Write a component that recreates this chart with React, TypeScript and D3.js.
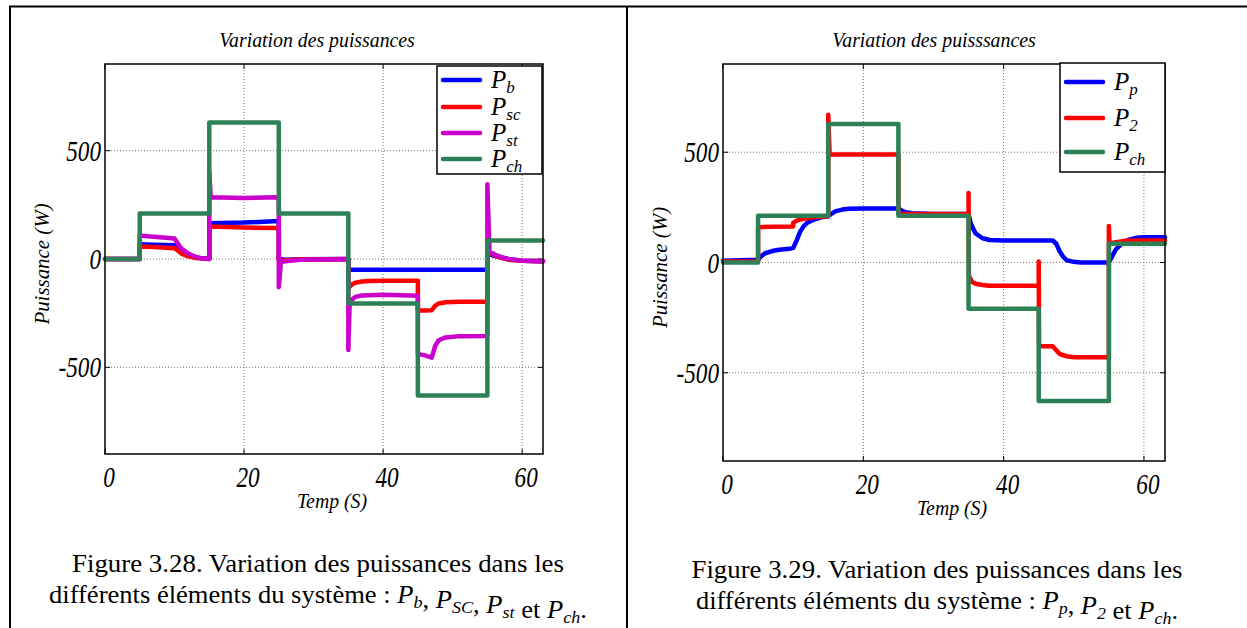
import React from "react";
import * as d3 from "d3";

// ---------- Data (time in s, power in W) ----------
type Pt = [number, number];

// Figure 3.28
const pbL: Pt[] = [[0,0],[5,0],[5,68],[7,66],[10,64],[10.5,50],[11,35],[12,18],[13,8],[14,3],[15,1],[15,165],[20,168],[25,175],[25,0],[26,-3],[28,-1],[35,0],[35,-50],[55,-50],[55,25],[56,15],[58,0],[60,-8],[63,-10]];
const pscL: Pt[] = [[0,0],[5,0],[5,58],[7,55],[10,50],[10.5,38],[11,25],[12,12],[13,5],[14,2],[15,0],[15,150],[20,145],[25,143],[25,-8],[26,-6],[28,-2],[35,0],[35,-135],[35.5,-118],[36,-110],[37,-104],[38,-102],[40,-100],[45,-100],[45,-238],[46,-238],[47,-236],[47.5,-215],[48,-205],[49,-200],[51,-197],[55,-197],[55,35],[56,18],[57,5],[58,-3],[60,-8],[63,-10]];
const pstL: Pt[] = [[0,0],[5,0],[5,108],[7,103],[10,95],[10.5,70],[11,48],[12,25],[13,10],[14,3],[15,0],[15,400],[15.2,285],[20,282],[25,285],[25,-130],[25.3,-15],[26,-10],[28,-4],[30,-2],[35,-1],[35,-420],[35.2,-195],[36,-175],[37,-168],[40,-165],[44,-168],[45,-170],[45,-438],[46,-445],[47,-455],[47.5,-400],[48,-375],[49,-362],[51,-356],[55,-355],[55,345],[55.3,35],[56,22],[57,8],[58,0],[60,-8],[63,-10]];
const pchL: Pt[] = [[0,0],[5,0],[5,210],[15,210],[15,630],[25,630],[25,210],[35,210],[35,-205],[45,-205],[45,-630],[55,-630],[55,85],[63,85]];

// Figure 3.29
const ppR: Pt[] = [[0,8],[5,12],[5.5,30],[6,42],[7,52],[8,58],[9.5,62],[10,66],[10.5,100],[11,140],[11.5,165],[12,180],[13,195],[14,205],[15,210],[15.5,222],[16,232],[17,240],[18,244],[20,245],[25,245],[25.5,235],[26,228],[27,223],[30,220],[35,220],[35.3,180],[35.7,150],[36,132],[37,110],[38,102],[40,100],[47,100],[47.5,85],[48,50],[48.5,25],[49,10],[50,3],[51,0],[55,0],[55.5,30],[56,60],[57,90],[58,105],[59,112],[60,115],[63,115]];
const p2R: Pt[] = [[0,5],[5,5],[5,160],[7,162],[10,163],[10,180],[10.5,190],[11,195],[12,200],[13,205],[15,210],[15,670],[15.2,490],[20,490],[25,490],[25,220],[30,220],[35,220],[35,315],[35.05,-60],[35.5,-88],[36,-96],[37,-102],[38,-105],[45,-105],[45,5],[45.05,-380],[47,-380],[47.5,-398],[48,-415],[49,-425],[50,-430],[55,-430],[55,165],[55.1,85],[56,92],[57,97],[58,100],[63,100]];
const pchR: Pt[] = [[0,0],[5,0],[5,212],[15,212],[15,628],[25,628],[25,212],[35,212],[35,-210],[45,-210],[45,-628],[55,-628],[55,85],[63,85]];

const xTicks = [0, 20, 40, 60];
const yTicks = [-500, 0, 500];
const xDomain: [number, number] = [0, 63];
const yDomain: [number, number] = [-900, 900];

const BLUE = "#0000ff";
const RED = "#ff0000";
const MAG = "#cc00cc";
const GREEN = "#2e8157";

const SERIF = "'Liberation Serif', 'Times New Roman', serif";

interface Series { data: Pt[]; color: string; sub: string; }

interface PanelProps {
  box: { x0: number; x1: number; y0: number; y1: number };
  title: string;
  titleX: number;
  series: Series[];
  legend: { x: number; y: number; w: number; h: number; rows: number[] };
}

function SText({ x, y, sx = 1, anchor = "start", size, rotate = 0, children }: { x: number; y: number; sx?: number; anchor?: string; size: number; rotate?: number; children: React.ReactNode }) {
  return (
    <g transform={`translate(${x},${y}) rotate(${rotate}) scale(${sx},1)`}>
      <text x={0} y={0} textAnchor={anchor} fontFamily={SERIF} fontStyle="italic" fontSize={size}>{children}</text>
    </g>
  );
}

function Panel({ box, title, titleX, series, legend }: PanelProps) {
  const x = d3.scaleLinear().domain(xDomain).range([box.x0, box.x1]);
  const y = d3.scaleLinear().domain(yDomain).range([box.y1, box.y0]);
  const line = d3.line<Pt>().x(d => x(d[0])).y(d => y(d[1]));
  const cx = (box.x0 + box.x1) / 2;
  const cy = (box.y0 + box.y1) / 2;
  return (
    <g>
      <rect x={box.x0} y={box.y0} width={box.x1 - box.x0} height={box.y1 - box.y0} fill="#fff" />
      {/* grid */}
      {xTicks.filter(t => t > 0).map(t => (
        <line key={"gx" + t} x1={x(t)} x2={x(t)} y1={box.y0} y2={box.y1} stroke="#777" strokeWidth={1} strokeDasharray="1 2" />
      ))}
      {yTicks.map(t => (
        <line key={"gy" + t} x1={box.x0} x2={box.x1} y1={y(t)} y2={y(t)} stroke="#777" strokeWidth={1} strokeDasharray="1 2" />
      ))}
      {/* ticks */}
      {xTicks.map(t => (
        <g key={"tx" + t}>
          <line x1={x(t)} x2={x(t)} y1={box.y1} y2={box.y1 - 5} stroke="#000" />
          <line x1={x(t)} x2={x(t)} y1={box.y0} y2={box.y0 + 5} stroke="#000" />
        </g>
      ))}
      {yTicks.map(t => (
        <g key={"ty" + t}>
          <line x1={box.x0} x2={box.x0 + 5} y1={y(t)} y2={y(t)} stroke="#000" />
          <line x1={box.x1} x2={box.x1 - 5} y1={y(t)} y2={y(t)} stroke="#000" />
        </g>
      ))}
      {/* series */}
      {series.map((s, i) => (
        <path key={"s" + i} d={line(s.data) || ""} fill="none" stroke={s.color} strokeWidth={4.5} strokeLinejoin="round" strokeLinecap="round" />
      ))}
      {/* box */}
      <rect x={box.x0} y={box.y0} width={box.x1 - box.x0} height={box.y1 - box.y0} fill="none" stroke="#000" strokeWidth={1.5} />
      {/* tick labels */}
      {xTicks.map(t => (
        <SText key={"lx" + t} x={x(t) + 4} y={box.y1 + 33} anchor="middle" size={29} sx={0.8}>{t}</SText>
      ))}
      {yTicks.map(t => (
        <SText key={"ly" + t} x={box.x0 - 4} y={y(t) + 10} anchor="end" size={29} sx={0.8}>{t}</SText>
      ))}
      <SText x={cx + 8} y={box.y1 + 54} anchor="middle" size={22} sx={0.9}>Temp (S)</SText>
      <SText x={box.x0 - 56} y={cy + 5} anchor="middle" size={22} sx={0.95} rotate={-90}>Puissance (W)</SText>
      <SText x={titleX} y={47} anchor="middle" size={22} sx={0.9}>{title}</SText>
      {/* legend */}
      <rect x={legend.x} y={legend.y} width={legend.w} height={legend.h} fill="#fff" stroke="#000" strokeWidth={1.5} />
      {series.map((s, i) => (
        <g key={"lg" + i}>
          <line x1={legend.x + 6} x2={legend.x + 43} y1={legend.rows[i]} y2={legend.rows[i]} stroke={s.color} strokeWidth={4.5} strokeLinecap="round" />
          <text x={legend.x + 54} y={legend.rows[i] + 8} fontFamily={SERIF} fontStyle="italic" fontSize={25}>
            P<tspan fontSize={17} dy={5}>{s.sub}</tspan>
          </text>
        </g>
      ))}
    </g>
  );
}

function Caption({ cx, y, num, subs, w1, w2 }: { cx: number; y: number; num: string; subs: string[]; w1: number; w2: number }) {
  const parts: React.ReactNode[] = [];
  subs.forEach((s, i) => {
    const sep = i === 0 ? "" : i === subs.length - 1 ? " et " : ", ";
    if (sep) parts.push(<tspan key={"sep" + i}>{sep}</tspan>);
    parts.push(<tspan key={"p" + i} fontStyle="italic">P</tspan>);
    parts.push(<tspan key={"s" + i} fontStyle="italic" fontSize={17} dy={5}>{s}</tspan>);
    parts.push(<tspan key={"r" + i} dy={-5}>{i === subs.length - 1 ? "." : ""}</tspan>);
  });
  return (
    <g fontFamily={SERIF} fontSize={25} textAnchor="middle">
      <text x={cx} y={y} textLength={w1} lengthAdjust="spacingAndGlyphs">{`Figure ${num}. Variation des puissances dans les`}</text>
      <text x={cx} y={y + 31} textLength={w2} lengthAdjust="spacingAndGlyphs">
        différents éléments du système : {parts}
      </text>
    </g>
  );
}

export default function App() {
  return (
    <svg width={1247} height={628} style={{ position: "absolute", left: 0, top: 0, background: "#fff" }}>
      <rect x={0} y={0} width={1247} height={628} fill="#fff" />
      {/* frame */}
      <line x1={9} x2={1247} y1={6.5} y2={6.5} stroke="#000" strokeWidth={2} />
      <line x1={10} x2={10} y1={6} y2={628} stroke="#000" strokeWidth={2} />
      <line x1={627} x2={627} y1={6} y2={628} stroke="#000" strokeWidth={2} />
      <Panel
        box={{ x0: 105, x1: 543, y0: 64, y1: 454 }}
        title="Variation des puissances"
        titleX={317}
        series={[
          { data: pbL, color: BLUE, sub: "b" },
          { data: pscL, color: RED, sub: "sc" },
          { data: pstL, color: MAG, sub: "st" },
          { data: pchL, color: GREEN, sub: "ch" },
        ]}
        legend={{ x: 437, y: 66, w: 105, h: 108, rows: [80, 107, 133, 159] }}
      />
      <Panel
        box={{ x0: 723, x1: 1165, y0: 64, y1: 461 }}
        title="Variation des puisssances"
        titleX={934}
        series={[
          { data: ppR, color: BLUE, sub: "p" },
          { data: p2R, color: RED, sub: "2" },
          { data: pchR, color: GREEN, sub: "ch" },
        ]}
        legend={{ x: 1060, y: 63, w: 105, h: 109, rows: [82, 118, 152] }}
      />
      <Caption cx={318} y={572} num="3.28" subs={["b", "SC", "st", "ch"]} w1={492} w2={538} />
      <Caption cx={937} y={578} num="3.29" subs={["p", "2", "ch"]} w1={491} w2={482} />
    </svg>
  );
}
